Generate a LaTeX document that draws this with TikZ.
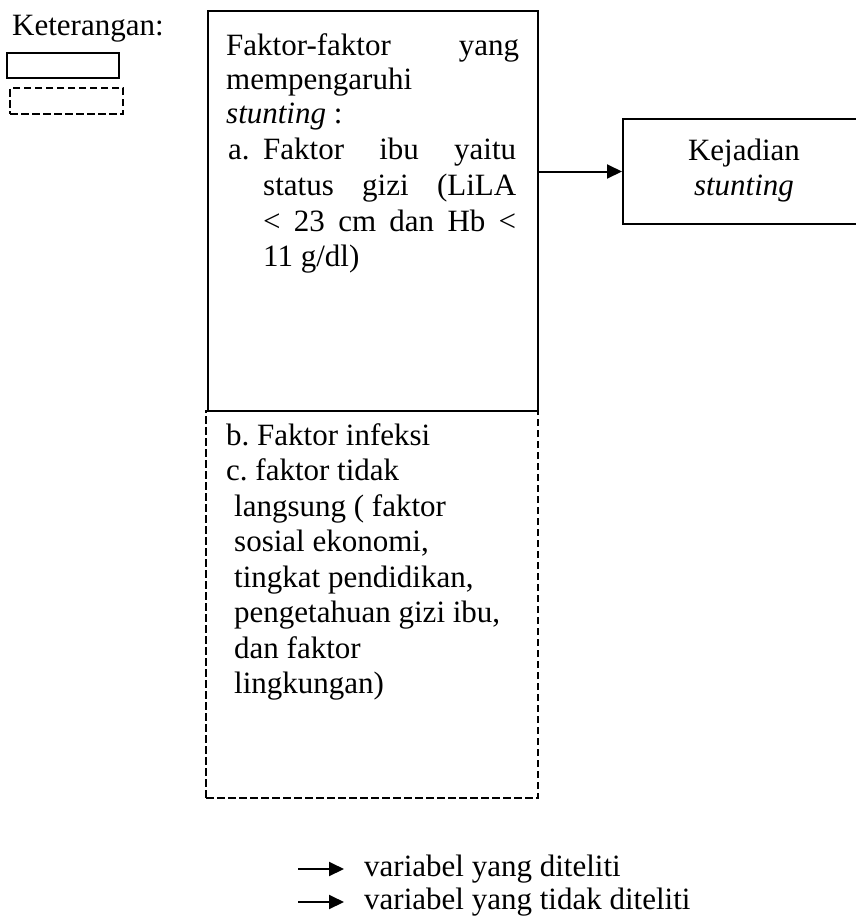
\documentclass[tikz,border=0pt]{standalone}
\usepackage{fontspec}
\setmainfont{Liberation Serif}
\usetikzlibrary{arrows.meta}
\begin{document}
\frenchspacing
\begin{tikzpicture}[x=1pt,y=-1pt,
  txt/.style={inner sep=0pt,anchor=base west,font=\fontsize{31}{35.6}\selectfont},
  ctxt/.style={inner sep=0pt,anchor=base,font=\fontsize{31}{35.6}\selectfont},
  solidbox/.style={draw,line width=2pt,inner sep=0pt,anchor=north west},
  dashbox/.style={draw,line width=2pt,dash pattern=on 7.5pt off 3.5pt,inner sep=0pt,anchor=north west},
  conn/.style={line width=2pt,-{Triangle[length=15pt,width=14pt]}}]
\useasboundingbox (0,0) rectangle (856,919);
\clip (0,0) rectangle (856,919);
% legend
\node[txt] (ket) at (12,35) {Keterangan:};
\node[solidbox,minimum width=112,minimum height=25] (lsolid) at (6,52) {};
\node[dashbox,minimum width=113,minimum height=26] (ldash) at (9,87) {};
% main boxes
\node[solidbox,minimum width=330,minimum height=400] (main) at (207,10) {};
\node[dashbox,minimum width=332,minimum height=387] (dash) at (205,410) {};
\node[solidbox,minimum width=250,minimum height=105] (kej) at (622,118) {};
% main box text
\node[txt] (m1) at (226,55) {\makebox[293pt][s]{Faktor-faktor yang}};
\node[txt] (m2) at (226,89) {mempengaruhi};
\node[txt] (m3) at (226,123) {\textit{stunting} :};
\node[txt] (m4a) at (228,159) {a.};
\node[txt] (m4) at (263,159) {\makebox[253pt][s]{Faktor ibu yaitu}};
\node[txt] (m5) at (263,195) {\makebox[253pt][s]{status gizi (LiLA}};
\node[txt] (m6) at (263,231) {\makebox[253pt][s]{< 23 cm dan Hb <}};
\node[txt] (m7) at (263,266.5) {11 g/dl)};
% dashed box text
\node[txt] (d1) at (226,445) {b. Faktor infeksi};
\node[txt] (d2) at (226,480.5) {c. faktor tidak};
\node[txt] (d3) at (234,516) {langsung ( faktor};
\node[txt] (d4) at (234,551.5) {sosial ekonomi,};
\node[txt] (d5) at (234,587) {tingkat pendidikan,};
\node[txt] (d6) at (234,622.5) {pengetahuan gizi ibu,};
\node[txt] (d7) at (234,658) {dan faktor};
\node[txt] (d8) at (234,693.5) {lingkungan)};
% outcome box text
\node[ctxt] (k1) at (744,160) {Kejadian};
\node[ctxt] (k2) at (744,195.5) {\textit{stunting}};
% connector
\draw[conn] (main.east |- kej.west) -- (kej.west);
% bottom legend
\coordinate (a1s) at (298,869);
\coordinate (a1e) at (344,869);
\coordinate (a2s) at (298,902);
\coordinate (a2e) at (344,902);
\draw[conn] (a1s) -- (a1e);
\draw[conn] (a2s) -- (a2e);
\node[txt] (t1) at (364,876) {variabel yang diteliti};
\node[txt] (t2) at (364,909) {variabel yang tidak diteliti};
\end{tikzpicture}
\end{document}
